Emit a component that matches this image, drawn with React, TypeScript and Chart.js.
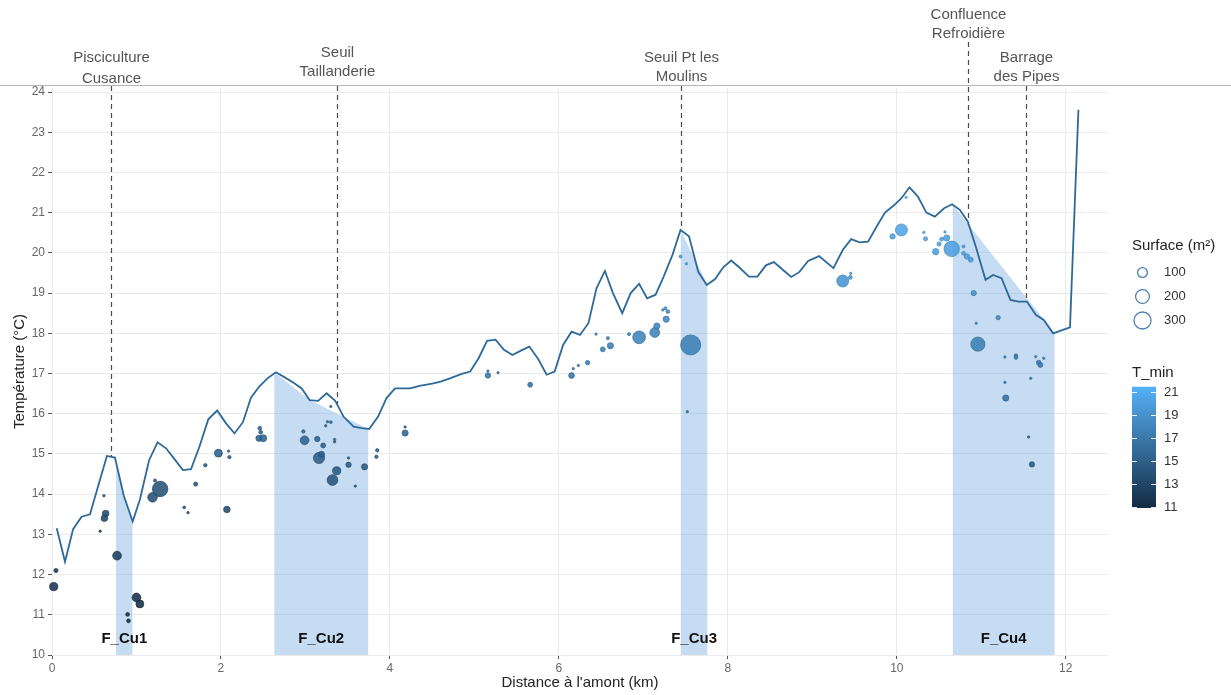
import React, { useEffect, useRef } from "react";
import { Chart, registerables } from "chart.js";

Chart.register(...registerables);

// ---------- data ----------
const lineKm = [
  0.056, 0.154, 0.25, 0.35, 0.45, 0.55, 0.65, 0.745, 0.85, 0.955, 1.04, 1.15, 1.25, 1.35, 1.45, 1.55, 1.645,
  1.745, 1.85, 1.955, 2.06, 2.16, 2.26, 2.355, 2.45, 2.55, 2.65, 2.75, 2.86, 2.955, 3.05, 3.15, 3.25, 3.35,
  3.45, 3.57, 3.665, 3.755, 3.86, 3.96, 4.06, 4.24, 4.35, 4.5, 4.6, 4.71, 4.85, 4.95, 5.05, 5.15, 5.25, 5.35,
  5.45, 5.55, 5.65, 5.755, 5.855, 5.95, 6.05, 6.15, 6.25, 6.35, 6.445, 6.545, 6.64, 6.75, 6.85, 6.95, 7.045,
  7.145, 7.24, 7.345, 7.44, 7.54, 7.65, 7.75, 7.85, 7.945, 8.04, 8.14, 8.25, 8.35, 8.45, 8.545, 8.65, 8.75,
  8.845, 8.95, 9.08, 9.25, 9.36, 9.46, 9.56, 9.66, 9.76, 9.86, 9.96, 10.055, 10.15, 10.25, 10.35, 10.45,
  10.56, 10.655, 10.745, 10.84, 10.94, 11.05, 11.14, 11.24, 11.345, 11.44, 11.54, 11.645, 11.74, 11.85,
  12.05, 12.15,
];
const lineTemp = [
  13.15, 12.32, 13.13, 13.44, 13.5, 14.23, 14.95, 14.91, 13.96, 13.32, 13.86, 14.85, 15.29, 15.14, 14.87, 14.6,
  14.62, 15.18, 15.86, 16.08, 15.76, 15.51, 15.79, 16.4, 16.67, 16.88, 17.03, 16.91, 16.77, 16.63, 16.34, 16.32,
  16.51, 16.33, 15.93, 15.68, 15.64, 15.62, 15.93, 16.39, 16.63, 16.63, 16.69, 16.75, 16.8, 16.88, 16.99, 17.05,
  17.38, 17.81, 17.84, 17.59, 17.46, 17.57, 17.67, 17.36, 16.97, 17.05, 17.71, 18.04, 17.96, 18.25, 19.12, 19.55,
  19.0, 18.5, 19.0, 19.23, 18.87, 18.96, 19.41, 19.95, 20.57, 20.41, 19.53, 19.2, 19.35, 19.64, 19.81, 19.63,
  19.41, 19.41, 19.69, 19.77, 19.58, 19.4, 19.52, 19.8, 19.92, 19.62, 20.07, 20.34, 20.26, 20.28, 20.65, 21.0,
  21.17, 21.36, 21.63, 21.4, 21.0, 20.9, 21.11, 21.21, 21.07, 20.78, 20.12, 19.33, 19.45, 19.37, 18.83, 18.79,
  18.79, 18.46, 18.33, 18.0, 18.15, 23.56,
];

const ptKm = [
  0.02, 0.047, 0.57, 0.615, 0.635, 0.62, 0.77, 0.895, 0.905, 1.0, 1.04, 1.19, 1.28, 1.22, 1.565, 1.61, 1.7,
  1.815, 1.97, 2.07, 2.1, 2.09, 2.46, 2.47, 2.45, 2.5, 2.975, 2.99, 3.14, 3.21, 3.16, 3.19, 3.3, 3.26, 3.3,
  3.24, 3.345, 3.345, 3.37, 3.32, 3.51, 3.51, 3.59, 3.7, 3.85, 3.84, 4.18, 4.18, 5.16, 5.16, 5.28, 5.66,
  6.15, 6.17, 6.23, 6.34, 6.44, 6.52, 6.61, 6.58, 6.83, 6.95, 7.135, 7.16, 7.27, 7.29, 7.26, 7.23, 7.44,
  7.51, 7.56, 7.52, 9.36, 9.45, 9.455, 9.95, 10.055, 10.11, 10.32, 10.34, 10.46, 10.5, 10.53, 10.57, 10.59,
  10.65, 10.79, 10.79, 10.83, 10.875, 10.91, 10.94, 11.2, 10.96, 11.28, 11.41, 11.41, 11.645, 11.74, 11.68,
  11.7, 11.28, 11.585, 11.29, 11.56, 11.6,
];
const ptTemp = [
  11.7, 12.1, 13.08, 13.96, 13.52, 13.4, 12.47, 11.01, 10.85, 11.43, 11.27, 13.92, 14.13, 14.34, 13.67, 13.54,
  14.25, 14.72, 15.02, 13.62, 14.92, 15.07, 15.64, 15.54, 15.39, 15.39, 15.56, 15.34, 15.37, 15.21, 14.9, 14.99,
  16.18, 15.8, 15.79, 15.7, 15.36, 15.3, 14.58, 14.35, 14.73, 14.9, 14.2, 14.68, 15.09, 14.93, 15.52, 15.67,
  16.95, 17.06, 17.02, 16.72, 16.95, 17.12, 17.2, 17.27, 17.98, 17.6, 17.69, 17.88, 17.98, 17.9, 18.02, 18.18,
  18.35, 18.54, 18.62, 18.58, 19.91, 19.73, 17.71, 16.05, 19.3, 19.39, 19.49, 20.41, 20.57, 21.38, 20.51, 20.35,
  20.03, 20.22, 20.34, 20.52, 20.37, 20.1, 20.16, 19.99, 19.91, 19.83, 19.0, 18.25, 18.39, 17.73, 17.41, 17.45,
  17.4, 17.42, 17.38, 17.27, 17.21, 16.78, 16.88, 16.39, 15.42, 14.74,
];
const ptSurface = [
  70, 18, 6, 6, 45, 45, 80, 15, 15, 80, 65, 95, 250, 10, 8, 6, 18, 12, 65, 45, 12, 5, 15, 15, 40, 50, 12, 80,
  30, 25, 130, 40, 4, 4, 8, 4, 4, 4, 70, 120, 30, 5, 6, 40, 12, 12, 40, 5, 30, 5, 6, 25, 35, 5, 5, 20, 3, 25,
  40, 10, 10, 170, 100, 40, 40, 15, 10, 5, 10, 6, 420, 6, 150, 15, 5, 30, 150, 4, 5, 18, 40, 18, 15, 5, 40,
  250, 10, 15, 30, 25, 30, 4, 20, 210, 4, 12, 15, 5, 5, 25, 25, 5, 5, 40, 5, 30,
];
const ptTmin = [
  11.6, 12.0, 13.0, 13.9, 13.4, 13.3, 12.4, 11.0, 10.9, 11.3, 11.2, 13.8, 14.0, 14.2, 13.6, 13.5,
  14.2, 14.6, 14.9, 13.5, 14.8, 15.0, 15.5, 15.4, 15.3, 15.3, 15.5, 15.2, 15.3, 15.1, 14.8, 14.9,
  16.1, 15.7, 15.7, 15.6, 15.3, 15.2, 14.5, 14.2, 14.6, 14.8, 14.1, 14.6, 15.0, 14.8, 15.4, 15.6,
  16.9, 17.0, 16.9, 16.6, 16.9, 17.0, 17.1, 17.2, 17.9, 17.5, 17.6, 17.8, 17.9, 17.8, 17.9, 18.1,
  18.3, 18.5, 18.5, 18.5, 19.8, 19.6, 17.6, 16.0, 19.2, 19.3, 19.4, 20.3, 20.5, 21.3, 20.4, 20.3,
  20.0, 20.1, 20.3, 20.4, 20.3, 20.0, 20.1, 19.9, 19.8, 19.7, 18.9, 18.2, 18.3, 17.6, 17.3, 17.4,
  17.3, 17.3, 17.3, 17.2, 17.1, 16.7, 16.8, 16.3, 15.3, 14.6,
];

const zoneNames = ["F_Cu1", "F_Cu2", "F_Cu3", "F_Cu4"];
const zone1Km = [0.757, 0.85, 0.955];
const zone1Top = [14.9, 13.96, 13.32];
const zone2Km = [2.63, 3.05, 3.745];
const zone2Top = [17.03, 16.34, 15.62];
const zone3Km = [7.44, 7.76];
const zone3Top = [20.57, 19.2];
const zone4Km = [10.66, 11.87];
const zone4Top = [21.2, 18.0];

const siteNames = [
  ["Pisciculture", "Cusance"],
  ["Seuil", "Taillanderie"],
  ["Seuil Pt les", "Moulins"],
  ["Confluence", "Refroidière"],
  ["Barrage", "des Pipes"],
];
const siteKm = [0.698, 3.37, 7.44, 10.84, 11.53];

const xTicks = [0, 2, 4, 6, 8, 10, 12];
const yTicks = [10, 11, 12, 13, 14, 15, 16, 17, 18, 19, 20, 21, 22, 23, 24];
const sizeBreaks = [100, 200, 300];
const colorTicks = [11, 13, 15, 17, 19, 21];

// ---------- layout / style ----------
const FONT = '"Liberation Sans", Arial, Helvetica, sans-serif';
const W = 1231;
const H = 695;
const siteTextY = [[58, 79], [53, 72], [58, 77], [15, 34], [58, 77]];
const siteLineTop = [86, 86, 86, 42, 86];
const COLOR_LO = [19, 43, 67];
const COLOR_HI = [86, 177, 247];
const C_MIN = 10.9;
const C_MAX = 21.45;
const SHADE = "rgba(112,167,222,0.40)";

function tColor(v: number, alpha = 1) {
  const t = Math.max(0, Math.min(1, (v - C_MIN) / (C_MAX - C_MIN)));
  const c = COLOR_LO.map((lo, i) => Math.round(lo + (COLOR_HI[i] - lo) * t));
  return `rgba(${c[0]},${c[1]},${c[2]},${alpha})`;
}
function tBorder(v: number) {
  const t = Math.max(0, Math.min(1, (v - C_MIN) / (C_MAX - C_MIN)));
  const c = COLOR_LO.map((lo, i) => Math.round((lo + (COLOR_HI[i] - lo) * t) * 0.85));
  return `rgb(${c[0]},${c[1]},${c[2]})`;
}
function rFromSurface(s: number) {
  return Math.max(1.2, 0.49 * Math.sqrt(s));
}
function lineAt(km: number) {
  for (let i = 0; i < lineKm.length - 1; i++) {
    if (km >= lineKm[i] && km <= lineKm[i + 1]) {
      const f = (km - lineKm[i]) / (lineKm[i + 1] - lineKm[i]);
      return lineTemp[i] + f * (lineTemp[i + 1] - lineTemp[i]);
    }
  }
  return lineTemp[lineTemp.length - 1];
}

const zip = (xs: number[], ys: number[]) => xs.map((x, i) => ({ x, y: ys[i] }));

const decorPlugin = {
  id: "decor",
  afterDraw(chart: any) {
    const { ctx, scales } = chart;
    const x = scales.x;
    const y = scales.y;
    ctx.save();

    // top border line
    ctx.strokeStyle = "#b4b4b4";
    ctx.lineWidth = 1;
    ctx.beginPath();
    ctx.moveTo(0, 85.5);
    ctx.lineTo(W, 85.5);
    ctx.stroke();

    // site dashed lines + labels
    siteKm.forEach((km, i) => {
      const px = Math.round(x.getPixelForValue(km)) + 0.5;
      const bottom = y.getPixelForValue(lineAt(km));
      ctx.strokeStyle = "#4a4a4a";
      ctx.lineWidth = 1.2;
      ctx.setLineDash([5, 4]);
      ctx.beginPath();
      ctx.moveTo(px, siteLineTop[i]);
      ctx.lineTo(px, bottom);
      ctx.stroke();
      ctx.setLineDash([]);
      ctx.fillStyle = "#555555";
      ctx.font = `15px ${FONT}`;
      ctx.textAlign = "center";
      ctx.textBaseline = "middle";
      siteNames[i].forEach((t, j) => ctx.fillText(t, px, siteTextY[i][j]));
    });

    // zone labels
    const zones = [zone1Km, zone2Km, zone3Km, zone4Km];
    ctx.fillStyle = "#111111";
    ctx.font = `bold 15px ${FONT}`;
    ctx.textAlign = "center";
    ctx.textBaseline = "middle";
    zones.forEach((zk, i) => {
      const mid = (zk[0] + zk[zk.length - 1]) / 2;
      ctx.fillText(zoneNames[i], x.getPixelForValue(mid), y.getPixelForValue(10.4));
    });

    // axis titles
    ctx.fillStyle = "#222222";
    ctx.font = `15px ${FONT}`;
    ctx.textAlign = "center";
    ctx.textBaseline = "middle";
    ctx.fillText("Distance à l'amont (km)", (chart.chartArea.left + chart.chartArea.right) / 2, 683);
    ctx.save();
    ctx.translate(20, (chart.chartArea.top + chart.chartArea.bottom) / 2);
    ctx.rotate(-Math.PI / 2);
    ctx.fillText("Température (°C)", 0, 0);
    ctx.restore();

    // size legend
    ctx.textAlign = "left";
    ctx.fillStyle = "#222222";
    ctx.font = `15px ${FONT}`;
    ctx.fillText("Surface (m²)", 1132, 246);
    const legY = [272.5, 296.5, 320.5];
    sizeBreaks.forEach((s, i) => {
      ctx.strokeStyle = "#4a80b2";
      ctx.lineWidth = 1.3;
      ctx.beginPath();
      ctx.arc(1142.5, legY[i], rFromSurface(s), 0, Math.PI * 2);
      ctx.stroke();
      ctx.fillStyle = "#333333";
      ctx.font = `13px ${FONT}`;
      ctx.fillText(String(s), 1164, legY[i]);
    });

    // colour bar
    ctx.fillStyle = "#222222";
    ctx.font = `15px ${FONT}`;
    ctx.fillText("T_min", 1132, 373);
    const barX = 1132;
    const barW = 24;
    const barTop = 386.7;
    const barBot = 508;
    const g = ctx.createLinearGradient(0, barBot, 0, barTop);
    for (let k = 0; k <= 10; k++) {
      g.addColorStop(k / 10, tColor(C_MIN + (C_MAX - C_MIN) * (k / 10)));
    }
    ctx.fillStyle = g;
    ctx.fillRect(barX, barTop, barW, barBot - barTop);
    const pxPer = (barBot - barTop) / (C_MAX - C_MIN);
    colorTicks.forEach((v) => {
      const ty = Math.round(barBot - (v - C_MIN) * pxPer) + 0.5;
      ctx.strokeStyle = "rgba(255,255,255,0.9)";
      ctx.lineWidth = 1;
      ctx.beginPath();
      ctx.moveTo(barX, ty);
      ctx.lineTo(barX + 5, ty);
      ctx.moveTo(barX + barW - 5, ty);
      ctx.lineTo(barX + barW, ty);
      ctx.stroke();
      ctx.fillStyle = "#333333";
      ctx.font = `13px ${FONT}`;
      ctx.fillText(String(v), 1164, ty);
    });

    ctx.restore();
  },
};

export default function App() {
  const ref = useRef<HTMLCanvasElement | null>(null);

  useEffect(() => {
    if (!ref.current) return;
    Chart.defaults.font.family = FONT;
    const zoneDs = [
      [zone1Km, zone1Top],
      [zone2Km, zone2Top],
      [zone3Km, zone3Top],
      [zone4Km, zone4Top],
    ].map(([k, t]) => ({
      type: "line" as const,
      data: zip(k, t),
      fill: "start",
      backgroundColor: SHADE,
      borderWidth: 0,
      borderColor: "rgba(0,0,0,0)",
      pointRadius: 0,
      order: 3,
    }));

    const chart = new Chart(ref.current, {
      type: "scatter",
      data: {
        datasets: [
          {
            type: "scatter" as const,
            data: zip(ptKm, ptTemp),
            pointRadius: (c: any) => rFromSurface(ptSurface[c.dataIndex]),
            backgroundColor: (c: any) => tColor(ptTmin[c.dataIndex], 0.88),
            borderColor: (c: any) => tBorder(ptTmin[c.dataIndex]),
            borderWidth: 0.7,
            clip: false,
            order: 1,
          },
          {
            type: "line" as const,
            data: zip(lineKm, lineTemp),
            borderColor: "#2d6a99",
            borderWidth: 1.8,
            pointRadius: 0,
            fill: false,
            tension: 0,
            order: 2,
          },
          ...zoneDs,
        ] as any,
      },
      options: {
        responsive: false,
        animation: false,
        devicePixelRatio: 1,
        events: [],
        layout: { padding: { left: 0, right: W - 1108, top: 88, bottom: 0 } },
        plugins: { legend: { display: false }, tooltip: { enabled: false } },
        scales: {
          x: {
            type: "linear",
            min: 0,
            max: 12.5,
            afterBuildTicks: (s: any) => {
              s.ticks = xTicks.map((v) => ({ value: v }));
            },
            afterFit: (s: any) => {
              s.height = H - 655;
            },
            ticks: {
              color: "#666666",
              font: { size: 12, family: FONT },
              padding: 2,
              maxRotation: 0,
              autoSkip: false,
            },
            grid: { color: "#ebebeb", lineWidth: 1, tickColor: "#555555", tickLength: 4, drawTicks: true },
            border: { display: false },
          },
          y: {
            type: "linear",
            min: 10,
            max: 24.1,
            afterBuildTicks: (s: any) => {
              s.ticks = yTicks.map((v) => ({ value: v }));
            },
            afterFit: (s: any) => {
              s.width = 52;
            },
            ticks: {
              color: "#666666",
              font: { size: 12, family: FONT },
              padding: 3,
              autoSkip: false,
            },
            grid: { color: "#ebebeb", lineWidth: 1, tickColor: "#555555", tickLength: 4, drawTicks: true },
            border: { display: false },
          },
        },
      } as any,
      plugins: [decorPlugin],
    });
    return () => chart.destroy();
  }, []);

  return (
    <div style={{ position: "absolute", left: 0, top: 0, width: W, height: H, background: "#ffffff" }}>
      <canvas ref={ref} width={W} height={H} style={{ display: "block" }} />
    </div>
  );
}
